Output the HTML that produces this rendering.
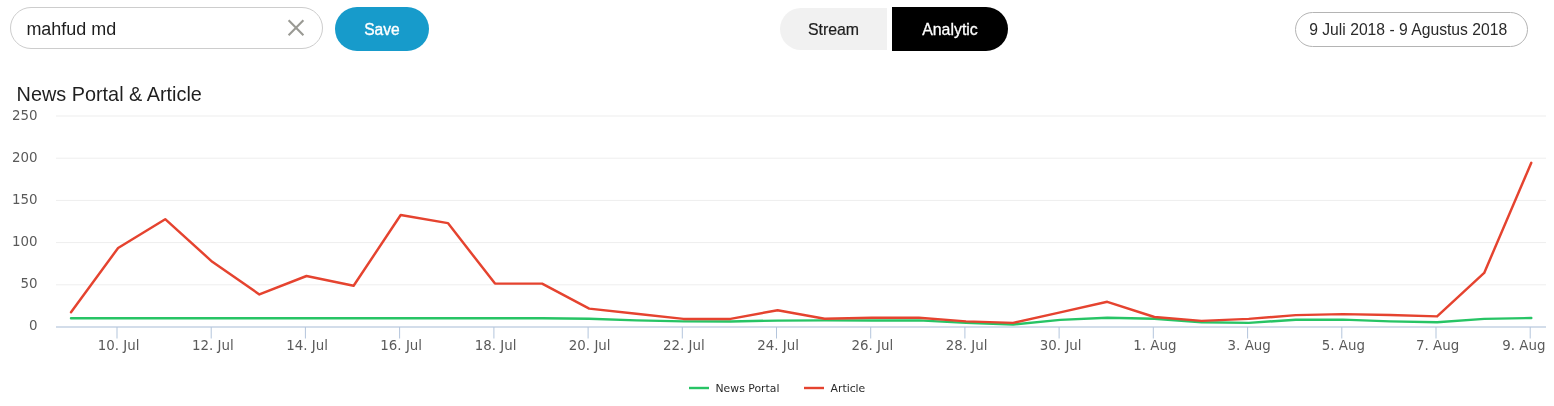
<!DOCTYPE html>
<html lang="id">
<head>
<meta charset="utf-8">
<title>News Portal &amp; Article</title>
<style>
html,body{margin:0;padding:0;background:#fff;}
body{width:1554px;height:406px;position:relative;overflow:hidden;font-family:"Liberation Sans",Arial,sans-serif;color:#222;}
.abs{position:absolute;box-sizing:border-box;}
.search{left:10px;top:7px;width:313px;height:42px;border:1px solid #cdcdcd;border-radius:21px;background:#fff;}
.search .q{position:absolute;left:15.4px;top:0;line-height:42px;font-size:17.95px;color:#1d1d1d;white-space:nowrap;}
.search svg{position:absolute;left:275px;top:10px;}
.save{-webkit-text-stroke:0.35px #fff;left:335px;top:7px;width:94px;height:44px;border-radius:22px;background:#179bcb;color:#fff;font-size:15.6px;text-align:center;line-height:46px;}
.stream{-webkit-text-stroke:0.2px #1d1d1d;left:780px;top:8px;width:107px;height:42px;border-radius:21px 0 0 21px;background:#f1f1f1;color:#1d1d1d;font-size:15.9px;text-align:center;line-height:43.5px;}
.analytic{-webkit-text-stroke:0.3px #fff;left:892px;top:7px;width:116px;height:44px;border-radius:0 22px 22px 0;background:#000;color:#fff;font-size:15.9px;text-align:center;line-height:45px;}
.date{left:1295px;top:12px;width:233px;height:35px;border:1px solid #b4b4b4;border-radius:17.5px;font-size:15.7px;color:#2a2a2a;line-height:33px;padding-left:13.2px;white-space:nowrap;}
.title{left:16.6px;top:81.4px;font-size:19.85px;line-height:26px;color:#1f1f1f;white-space:nowrap;}
svg.chart{position:absolute;left:0;top:0;}
svg.chart text{font-family:"DejaVu Sans","Liberation Sans",sans-serif;}
</style>
</head>
<body>
<div class="abs search"><span class="q">mahfud md</span>
<svg width="20" height="20" viewBox="0 0 20 20"><path d="M2.6 2.2 L17.4 17.2 M17.4 2.2 L2.6 17.2" stroke="#9a9a94" stroke-width="2.1" fill="none" stroke-linecap="butt"/></svg>
</div>
<div class="abs save">Save</div>
<div class="abs stream">Stream</div>
<div class="abs analytic">Analytic</div>
<div class="abs date">9 Juli 2018 - 9 Agustus 2018</div>
<div class="abs title">News Portal &amp; Article</div>
<svg class="chart" width="1554" height="406" viewBox="0 0 1554 406">
<g>
<rect x="56" y="115.5" width="1490" height="1" fill="#eeeeee"/>
<rect x="56" y="157.7" width="1490" height="1" fill="#eeeeee"/>
<rect x="56" y="199.9" width="1490" height="1" fill="#eeeeee"/>
<rect x="56" y="242.1" width="1490" height="1" fill="#eeeeee"/>
<rect x="56" y="284.3" width="1490" height="1" fill="#eeeeee"/>
</g>
<rect x="56" y="326.5" width="1490" height="1" fill="#a8bcd6"/>
<g>
<rect x="116.5" y="327" width="1" height="11.5" fill="#b4c5dc"/>
<rect x="210.7" y="327" width="1" height="11.5" fill="#b4c5dc"/>
<rect x="304.9" y="327" width="1" height="11.5" fill="#b4c5dc"/>
<rect x="399.1" y="327" width="1" height="11.5" fill="#b4c5dc"/>
<rect x="493.4" y="327" width="1" height="11.5" fill="#b4c5dc"/>
<rect x="587.6" y="327" width="1" height="11.5" fill="#b4c5dc"/>
<rect x="681.8" y="327" width="1" height="11.5" fill="#b4c5dc"/>
<rect x="776.0" y="327" width="1" height="11.5" fill="#b4c5dc"/>
<rect x="870.2" y="327" width="1" height="11.5" fill="#b4c5dc"/>
<rect x="964.4" y="327" width="1" height="11.5" fill="#b4c5dc"/>
<rect x="1058.6" y="327" width="1" height="11.5" fill="#b4c5dc"/>
<rect x="1152.8" y="327" width="1" height="11.5" fill="#b4c5dc"/>
<rect x="1247.1" y="327" width="1" height="11.5" fill="#b4c5dc"/>
<rect x="1341.3" y="327" width="1" height="11.5" fill="#b4c5dc"/>
<rect x="1435.5" y="327" width="1" height="11.5" fill="#b4c5dc"/>
<rect x="1529.7" y="327" width="1" height="11.5" fill="#b4c5dc"/>
</g>
<g font-size="13.4" fill="#5a5a5a">
<text x="37.6" y="120" text-anchor="end">250</text>
<text x="37.6" y="162" text-anchor="end">200</text>
<text x="37.6" y="204" text-anchor="end">150</text>
<text x="37.6" y="246" text-anchor="end">100</text>
<text x="37.6" y="288" text-anchor="end">50</text>
<text x="37.6" y="330" text-anchor="end">0</text>
<text x="118.6" y="350" text-anchor="middle">10. Jul</text>
<text x="212.8" y="350" text-anchor="middle">12. Jul</text>
<text x="307.0" y="350" text-anchor="middle">14. Jul</text>
<text x="401.2" y="350" text-anchor="middle">16. Jul</text>
<text x="495.5" y="350" text-anchor="middle">18. Jul</text>
<text x="589.7" y="350" text-anchor="middle">20. Jul</text>
<text x="683.9" y="350" text-anchor="middle">22. Jul</text>
<text x="778.1" y="350" text-anchor="middle">24. Jul</text>
<text x="872.3" y="350" text-anchor="middle">26. Jul</text>
<text x="966.5" y="350" text-anchor="middle">28. Jul</text>
<text x="1060.7" y="350" text-anchor="middle">30. Jul</text>
<text x="1154.9" y="350" text-anchor="middle">1. Aug</text>
<text x="1249.2" y="350" text-anchor="middle">3. Aug</text>
<text x="1343.4" y="350" text-anchor="middle">5. Aug</text>
<text x="1437.6" y="350" text-anchor="middle">7. Aug</text>
<text x="1545.5" y="350" text-anchor="end">9. Aug</text>
</g>
<polyline points="71.0,318.2 118.1,318.2 165.2,318.2 212.3,318.2 259.4,318.2 306.5,318.2 353.6,318.2 400.7,318.2 447.9,318.2 495.0,318.2 542.1,318.2 589.2,318.8 636.3,320.4 683.4,321.4 730.5,321.4 777.6,320.6 824.7,320.4 871.8,320.4 918.9,320.4 966.0,322.9 1013.1,324.5 1060.2,319.9 1107.3,317.8 1154.4,318.8 1201.6,322.2 1248.7,322.9 1295.8,319.7 1342.9,319.6 1390.0,321.4 1437.1,322.3 1484.2,318.9 1531.3,318.0" fill="none" stroke="#27c465" stroke-width="2.45" stroke-linejoin="round" stroke-linecap="round"/>
<polyline points="71.0,312.2 118.1,248.0 165.2,219.2 212.3,261.8 259.4,294.4 306.5,276.0 353.6,285.8 400.7,215.0 447.9,223.1 495.0,283.6 542.1,283.6 589.2,308.6 636.3,313.8 683.4,318.9 730.5,318.9 777.6,310.2 824.7,318.8 871.8,317.8 918.9,317.8 966.0,321.4 1013.1,322.9 1060.2,312.4 1107.3,301.8 1154.4,317.0 1201.6,320.9 1248.7,318.9 1295.8,315.1 1342.9,314.1 1390.0,315.0 1437.1,316.4 1484.2,272.9 1531.3,162.8" fill="none" stroke="#e5432f" stroke-width="2.45" stroke-linejoin="round" stroke-linecap="round"/>
<g>
<rect x="689" y="386.8" width="20" height="2.4" fill="#27c465"/>
<rect x="804" y="386.8" width="20" height="2.4" fill="#e5432f"/>
<g font-size="10.85" fill="#2a2a2a">
<text x="715.5" y="392">News Portal</text>
<text x="830.5" y="392">Article</text>
</g>
</g>
</svg>
</body>
</html>
